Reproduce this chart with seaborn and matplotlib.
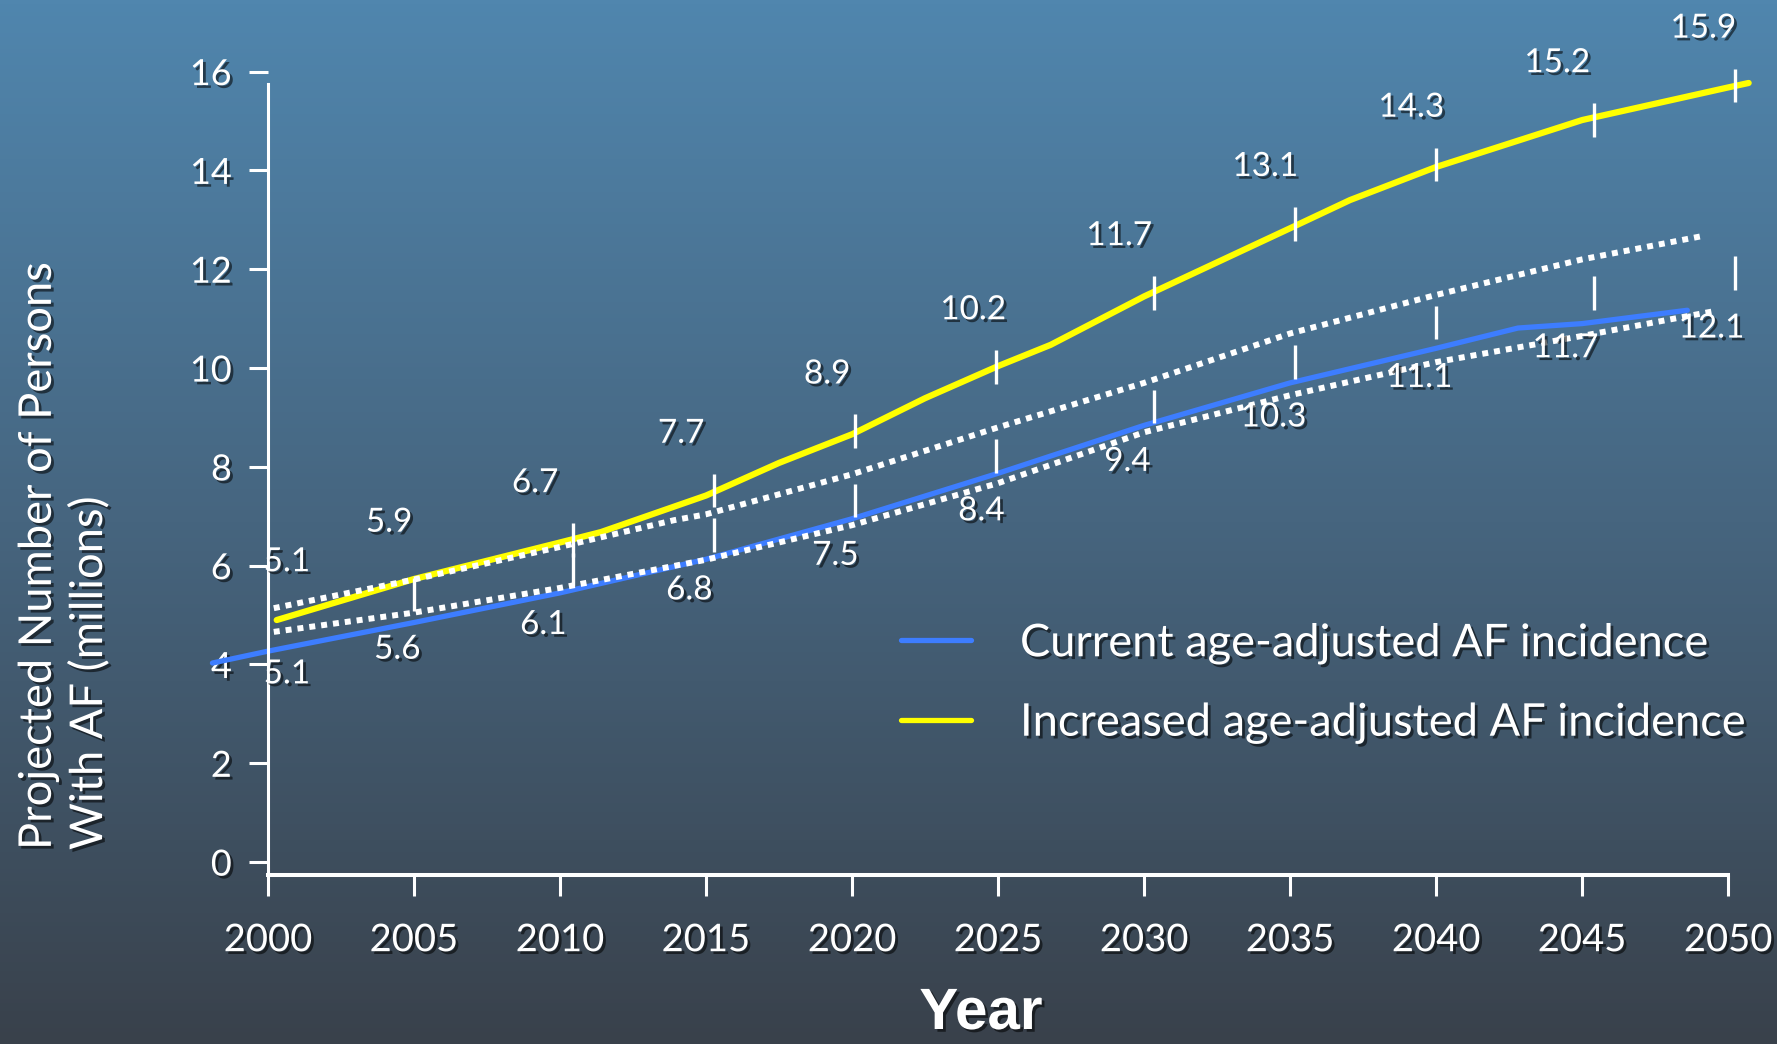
import numpy as np
import matplotlib
matplotlib.use("Agg")
import matplotlib.pyplot as plt
import matplotlib.patheffects as pe
from matplotlib.colors import LinearSegmentedColormap
from matplotlib.lines import Line2D
import seaborn as sns

# values printed on the chart
years = [2000, 2005, 2010, 2015, 2020, 2025, 2030, 2035, 2040, 2045, 2050]
increased_vals = [5.1, 5.9, 6.7, 7.7, 8.9, 10.2, 11.7, 13.1, 14.3, 15.2, 15.9]
current_vals = [5.1, 5.6, 6.1, 6.8, 7.5, 8.4, 9.4, 10.3, 11.1, 11.7, 12.1]

# where the little white markers sit (2005..2050)
bar_years = [2005.0, 2010.45, 2015.27, 2020.1, 2024.93, 2030.34, 2035.17, 2040.0, 2045.4, 2050.24]

# curves as drawn on the slide
inc_x = [2000.3, 2005, 2010, 2011.4, 2015, 2017.5, 2020, 2022.5, 2025, 2026.8, 2030, 2035, 2037.05, 2040, 2045, 2050, 2050.7]
inc_y = [4.90, 5.73, 6.47, 6.68, 7.42, 8.08, 8.66, 9.39, 10.04, 10.47, 11.45, 12.83, 13.4, 14.07, 15.02, 15.68, 15.77]

cur_x = [1998.1, 2000, 2005, 2010, 2015, 2020, 2025, 2030, 2035, 2040, 2042.8, 2045, 2048.6]
cur_y = [4.03, 4.27, 4.85, 5.45, 6.13, 6.95, 7.87, 8.84, 9.7, 10.4, 10.81, 10.9, 11.17]

upper_dot_x = [2000.2, 2005, 2010, 2013.9, 2015, 2020, 2025, 2030, 2035, 2040, 2045, 2049.1]
upper_dot_y = [5.14, 5.72, 6.38, 6.92, 7.04, 7.85, 8.8, 9.7, 10.7, 11.48, 12.2, 12.67]

lower_dot_x = [2000.2, 2005, 2010, 2015, 2020, 2025, 2030, 2035, 2040, 2045, 2049.5]
lower_dot_y = [4.66, 5.05, 5.55, 6.12, 6.82, 7.67, 8.7, 9.45, 10.12, 10.65, 11.15]

legend_labels = ["Current age-adjusted AF incidence", "Increased age-adjusted AF incidence"]

BLUE = "#3d7dff"
YELLOW = "#ffff00"
FONT = ["Lato", "DejaVu Sans"]

sns.set_style("white")
plt.rcParams["font.family"] = FONT
plt.rcParams["text.color"] = "white"

fig = plt.figure(figsize=(17.77, 10.44), dpi=100)

# slide background gradient
bg = fig.add_axes([0, 0, 1, 1], zorder=-5)
cmap = LinearSegmentedColormap.from_list("bg", ["#5086ae", "#46657f", "#39414b"])
bg.imshow(np.linspace(0, 1, 256).reshape(-1, 1), cmap=cmap, aspect="auto", extent=[0, 1, 0, 1])
bg.axis("off")

ax = fig.add_axes([0.1097, 0.1619, 0.8875, 0.8263])
ax.set_facecolor("none")

shadow = [pe.withSimplePatchShadow(offset=(2, -2), shadow_rgbFace="black", alpha=0.55)]

sns.lineplot(x=cur_x, y=cur_y, ax=ax, color=BLUE, lw=3.8, sort=False, estimator=None)
sns.lineplot(x=inc_x, y=inc_y, ax=ax, color=YELLOW, lw=4.5, sort=False, estimator=None,
             solid_capstyle="round")
for xs, ys in [(upper_dot_x, upper_dot_y), (lower_dot_x, lower_dot_y)]:
    sns.lineplot(x=xs, y=ys, ax=ax, color="white", lw=4.3, sort=False, estimator=None,
                 linestyle=(0, (1, 1)), dash_capstyle="butt")

# short white marks
inc_arr = np.array(increased_vals)
cur_arr = np.array(current_vals)
ax.vlines(bar_years[1:], inc_arr[2:] - 0.52, inc_arr[2:] + 0.16, color="white", lw=2.4, zorder=5)
ax.vlines(bar_years, cur_arr[1:] - 0.52, cur_arr[1:] + 0.16, color="white", lw=2.4, zorder=5)

# value labels
for i, yr in enumerate(years):
    dx_up = 0.65 if yr == 2000 else -0.85
    dx_lo = 0.65 if yr == 2000 else -0.57
    ax.text(yr + dx_up, increased_vals[i] + 0.97, f"{increased_vals[i]:.1f}", ha="center", va="center",
            fontsize=24, color="white", path_effects=shadow, zorder=6, clip_on=False)
    ax.text(yr + dx_lo, current_vals[i] - 1.3, f"{current_vals[i]:.1f}", ha="center", va="center",
            fontsize=24, color="white", path_effects=shadow, zorder=6, clip_on=False)

ax.set_xlim(1997.5, 2051.5)
ax.set_ylim(-0.26, 17.2)
ax.set_xticks(years)
ax.set_yticks(range(0, 17, 2))
ax.set_xlabel("")
ax.set_ylabel("")

for s in ["top", "right"]:
    ax.spines[s].set_visible(False)
ax.spines["left"].set_position(("data", 2000))
ax.spines["left"].set_bounds(-0.26, 15.75)
ax.spines["left"].set_color("white")
ax.spines["left"].set_linewidth(2.2)
ax.spines["bottom"].set_bounds(2000, 2050)
ax.spines["bottom"].set_color("white")
ax.spines["bottom"].set_linewidth(2.9)

ax.tick_params(axis="y", left=True, length=14, width=2.2, color="white", labelcolor="white",
               labelsize=26, pad=12)
ax.tick_params(axis="x", bottom=True, length=15, width=2.2, color="white", labelcolor="white",
               labelsize=27.5, pad=19)
for lab in ax.get_xticklabels() + ax.get_yticklabels():
    lab.set_path_effects(shadow)

renderer = fig.canvas.get_renderer()


def fit_size(text, width_px, **kw):
    t = fig.text(0, 0, text, fontsize=20, **kw)
    w = t.get_window_extent(renderer=renderer).width
    t.remove()
    return 20 * width_px / w


# y label
ysize = fit_size("Projected Number of Persons", 589)
fig.text(0.036, 1 - 850 / 1044, "Projected Number of Persons\nWith AF (millions)", rotation=90,
         ha="center", va="bottom", multialignment="left", fontsize=ysize, linespacing=1.3,
         color="white", path_effects=shadow)

# x label
xsize = fit_size("Year", 123, family=["Liberation Sans", "DejaVu Sans"], weight="bold")
fig.text(981 / 1777, 1 - 1014 / 1044, "Year", ha="center", va="center", fontsize=xsize,
         weight="bold", family=["Liberation Sans", "DejaVu Sans"], color="white", path_effects=shadow)

# legend
lsize = fit_size(legend_labels[0], 691)
fs_px = lsize * 100 / 72
handles = [Line2D([], [], color=BLUE, lw=3.8), Line2D([], [], color=YELLOW, lw=3.8)]
leg = fig.legend(handles, legend_labels, loc="center left",
                 bbox_to_anchor=(901 / 1777, 1 - 683.5 / 1044), bbox_transform=fig.transFigure,
                 frameon=False, fontsize=lsize, borderpad=0, borderaxespad=0,
                 handlelength=70 / fs_px, handletextpad=49 / fs_px, labelspacing=0.85)
for t in leg.get_texts():
    t.set_color("white")
    t.set_path_effects(shadow)

plt.savefig("out.png", dpi=100)
